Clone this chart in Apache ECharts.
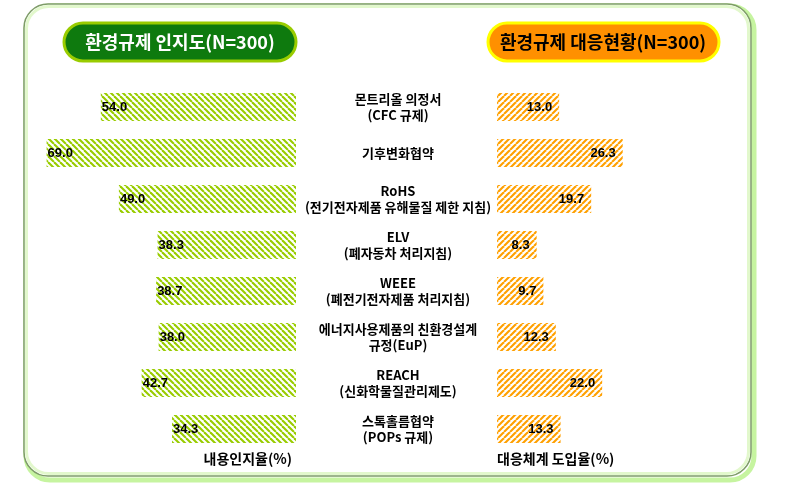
<!DOCTYPE html>
<html>
<head>
<meta charset="utf-8">
<script src="https://cdn.jsdelivr.net/npm/echarts@6/dist/echarts.min.js"></script>
<style>
html,body{margin:0;padding:0;background:#fff;}
#c{width:793px;height:486px;}
</style>
</head>
<body>
<div id="c"></div>
<script>
const categories = ['몬트리올 의정서\n(CFC 규제)', '기후변화협약', 'RoHS\n(전기전자제품 유해물질 제한 지침)', 'ELV\n(폐자동차 처리지침)', 'WEEE\n(폐전기전자제품 처리지침)', '에너지사용제품의 친환경설계\n규정(EuP)', 'REACH\n(신화학물질관리제도)', '스톡홀름협약\n(POPs 규제)'];
const awareness = [54.0, 69.0, 49.0, 38.3, 38.7, 38.0, 42.7, 34.3];
const adoption = [13.0, 26.3, 19.7, 8.3, 9.7, 12.3, 22.0, 13.3];
const leftTitle = '환경규제 인지도(N=300)';
const rightTitle = '환경규제 대응현황(N=300)';
const leftAxisName = '내용인지율(%)';
const rightAxisName = '대응체계 도입율(%)';

function stripes(color, dir) {
  const s = 6;
  const c = document.createElement('canvas');
  c.width = s; c.height = s;
  const g = c.getContext('2d');
  g.fillStyle = '#fff';
  g.fillRect(0, 0, s, s);
  g.strokeStyle = color;
  g.lineWidth = 2.1;
  for (let k = -1; k <= 1; k++) {
    g.beginPath();
    if (dir === 'back') { g.moveTo(k * s, 0); g.lineTo(k * s + s, s); }
    else { g.moveTo(k * s, s); g.lineTo(k * s + s, 0); }
    g.stroke();
  }
  return { image: c, repeat: 'repeat' };
}

const chart = echarts.init(document.getElementById('c'));
const valFont = { fontFamily: 'Liberation Sans, Arial', fontWeight: 'bold', fontSize: 13, color: '#000' };
chart.setOption({
  animation: false,
  backgroundColor: '#fff',
  graphic: [
    { type: 'rect', z: -10, shape: { x: 26, y: 6, width: 728, height: 474, r: 24 }, style: { fill: 'none', stroke: '#c6f4a0', lineWidth: 5 } },
    { type: 'rect', z: -9, shape: { x: 24, y: 4, width: 727, height: 472, r: 24 }, style: { fill: '#fff', stroke: '#7e9c68', lineWidth: 1.5 } },
    { type: 'rect', z: -8, shape: { x: 26.5, y: 6.5, width: 722, height: 467, r: 22 }, style: { fill: 'none', stroke: '#e2f8cc', lineWidth: 3 } },
    { type: 'rect', z: 5, shape: { x: 64, y: 23, width: 232, height: 38, r: 19 }, style: { fill: '#0e7a0e', stroke: '#99cc00', lineWidth: 3 } },
    { type: 'text', z: 6, x: 180, y: 42, style: { text: leftTitle, fill: '#fff', font: 'bold 18px "Noto Sans CJK KR"', align: 'center', verticalAlign: 'middle', textShadowColor: '#000', textShadowOffsetX: 1, textShadowOffsetY: 1, textShadowBlur: 0 } },
    { type: 'rect', z: 5, shape: { x: 488, y: 23, width: 231, height: 38, r: 19 }, style: { fill: '#ff9000', stroke: '#ffff00', lineWidth: 3 } },
    { type: 'text', z: 6, x: 603, y: 42, style: { text: rightTitle, fill: '#000', font: 'bold 18px "Noto Sans CJK KR"', align: 'center', verticalAlign: 'middle', textShadowColor: '#fff', textShadowOffsetX: 1, textShadowOffsetY: 1, textShadowBlur: 0 } },
    { type: 'text', z: 6, x: 292, y: 459, style: { text: leftAxisName, fill: '#000', font: 'bold 14px "Noto Sans CJK KR"', align: 'right', verticalAlign: 'middle' } },
    { type: 'text', z: 6, x: 497, y: 459, style: { text: rightAxisName, fill: '#000', font: 'bold 14px "Noto Sans CJK KR"', align: 'left', verticalAlign: 'middle' } }
  ],
  grid: [
    { left: 43, width: 253, top: 84, height: 368 },
    { left: 497, width: 143.4, top: 84, height: 368 }
  ],
  xAxis: [
    { gridIndex: 0, type: 'value', min: 0, max: 70, inverse: true, show: false, splitLine: { show: false } },
    { gridIndex: 1, type: 'value', min: 0, max: 30, show: false, splitLine: { show: false } }
  ],
  yAxis: [
    { gridIndex: 0, type: 'category', data: categories, inverse: true, show: false },
    { gridIndex: 1, type: 'category', data: categories, inverse: true, position: 'left',
      axisLine: { show: false }, axisTick: { show: false },
      axisLabel: { align: 'center', margin: 99, fontFamily: 'Noto Sans CJK KR', fontWeight: 'bold', fontSize: 13, lineHeight: 16, color: '#000' } }
  ],
  series: [
    { type: 'bar', xAxisIndex: 0, yAxisIndex: 0, data: awareness, barWidth: 28,
      itemStyle: { color: stripes('#99cc00', 'back') },
      label: Object.assign({ show: true, position: 'insideLeft', distance: 1, formatter: p => p.value.toFixed(1) }, valFont) },
    { type: 'bar', xAxisIndex: 1, yAxisIndex: 1, data: adoption, barWidth: 28,
      itemStyle: { color: stripes('#ffa000', 'fwd') },
      label: Object.assign({ show: true, position: 'insideRight', distance: 7, formatter: p => p.value.toFixed(1) }, valFont) }
  ]
});
</script>
</body>
</html>
